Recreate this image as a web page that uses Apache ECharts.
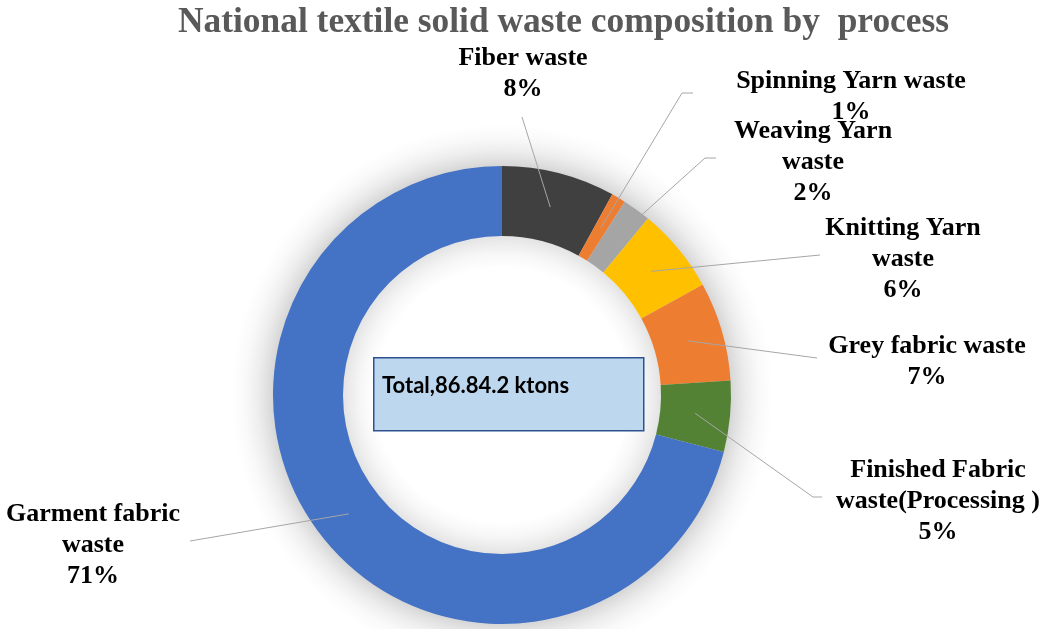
<!DOCTYPE html>
<html>
<head>
<meta charset="utf-8">
<script src="https://cdn.jsdelivr.net/npm/echarts@6/dist/echarts.min.js"></script>
<style>
  html, body { margin: 0; padding: 0; background: #fff; }
  #chart { width: 1045px; height: 629px; }
</style>
</head>
<body>
<div id="chart"></div>
<script>
// 数据
const categories = [
  'Fiber waste',
  'Spinning Yarn waste',
  'Weaving Yarn\nwaste',
  'Knitting Yarn\nwaste',
  'Grey fabric waste',
  'Finished Fabric\nwaste(Processing )',
  'Garment fabric\nwaste'
];
const shares = [8, 1, 2, 6, 7, 5, 71];
const sliceColors = ['#404040', '#ED7D31', '#A5A5A5', '#FFC000', '#ED7D31', '#548235', '#4472C4'];
const totalText = 'Total,86.84.2 ktons';

// ring geometry
const CX = 502, CY = 395;
const R_IN = 159, R_OUT = 229;
// soft halo ring (faked shadow) extends past the ring on both sides
const HALO_IN = R_IN - 32, HALO_OUT = R_OUT + 42;

// label placement (centre of text block, leader bend / end points)
const labelSpots = [
  { x: 523, y: 74, end: [522, 117] },
  { x: 851, y: 97, bend: [682, 93], end: [693, 93] },
  { x: 813, y: 162, bend: [705, 158], end: [716, 158] },
  { x: 903, y: 259, end: [820, 255] },
  { x: 927, y: 362, end: [817, 358] },
  { x: 938, y: 501, bend: [813, 497], end: [822, 497] },
  { x: 93, y: 545, end: [190, 541] }
];

const chart = echarts.init(document.getElementById('chart'), null, { renderer: 'canvas' });

// leader line start: middle of the ring band at the slice's mid angle (from the pie layout)
function bandPoint(seriesIndex, dataIndex) {
  const layout = chart.getModel().getSeriesByIndex(seriesIndex).getData().getItemLayout(dataIndex);
  const mid = (layout.startAngle + layout.endAngle) / 2;
  const r = (layout.r + layout.r0) / 2;
  return [layout.cx + r * Math.cos(mid), layout.cy + r * Math.sin(mid)];
}

function haloStop(r, alpha) {
  return { offset: r / HALO_OUT, color: 'rgba(0, 0, 0, ' + alpha + ')' };
}

const sliceData = categories.map((name, i) => ({
  name: name,
  value: shares[i],
  itemStyle: { color: sliceColors[i] }
}));

const option = {
  animation: false,
  title: {
    text: 'National textile solid waste composition by  process',
    left: 173,
    top: 0,
    textStyle: {
      fontFamily: 'Liberation Serif',
      fontSize: 35.4,
      fontWeight: 'bold',
      color: '#595959'
    }
  },
  graphic: [
    {
      type: 'rect',
      left: 373,
      top: 357,
      z: 10,
      shape: { width: 270, height: 73 },
      style: { fill: '#BDD7EE', stroke: '#2F528F', lineWidth: 1.5 }
    },
    {
      type: 'text',
      left: 382,
      top: 375,
      z: 11,
      style: { text: totalText, font: 'bold 22px Lato', fill: '#000' }
    }
  ],
  series: [
    {
      // soft shadow behind the ring
      type: 'pie',
      silent: true,
      center: [CX, CY],
      radius: [HALO_IN, HALO_OUT],
      z: 1,
      label: { show: false },
      labelLine: { show: false },
      emphasis: { disabled: true },
      data: [{ value: 1, name: 'halo' }],
      itemStyle: {
        color: {
          type: 'radial',
          x: 0.5,
          y: 0.5,
          r: 0.5,
          colorStops: [
            haloStop(HALO_IN, 0),
            haloStop(R_IN - 18, 0.03),
            haloStop(R_IN - 8, 0.07),
            haloStop(R_IN, 0.11),
            haloStop(R_OUT, 0.16),
            haloStop(R_OUT + 6, 0.12),
            haloStop(R_OUT + 15, 0.07),
            haloStop(R_OUT + 28, 0.025),
            haloStop(HALO_OUT, 0)
          ]
        }
      }
    },
    {
      // coloured ring
      type: 'pie',
      center: [CX, CY],
      radius: [R_IN, R_OUT],
      startAngle: 90,
      clockwise: true,
      z: 2,
      label: { show: false },
      labelLine: { show: false },
      data: sliceData
    },
    {
      // same slices, transparent, carrying labels and leader lines above the ring
      type: 'pie',
      silent: true,
      center: [CX, CY],
      radius: [R_IN, R_OUT],
      startAngle: 90,
      clockwise: true,
      z: 3,
      avoidLabelOverlap: false,
      emphasis: { disabled: true },
      data: categories.map((name, i) => ({ name: name, value: shares[i] })),
      itemStyle: { color: 'rgba(0, 0, 0, 0)' },
      label: {
        show: true,
        position: 'outside',
        formatter: '{b}\n{c}%',
        fontFamily: 'Liberation Serif',
        fontWeight: 'bold',
        fontSize: 26,
        lineHeight: 31,
        color: '#000'
      },
      labelLine: {
        show: true,
        length: 10,
        length2: 10,
        lineStyle: { color: '#A6A6A6', width: 1 }
      },
      labelLayout: function (params) {
        const spot = labelSpots[params.dataIndex];
        const start = bandPoint(params.seriesIndex, params.dataIndex);
        return {
          x: spot.x,
          y: spot.y,
          align: 'center',
          verticalAlign: 'middle',
          hideOverlap: false,
          labelLinePoints: [start, spot.bend || spot.end, spot.end]
        };
      }
    }
  ]
};

chart.setOption(option);
</script>
</body>
</html>
